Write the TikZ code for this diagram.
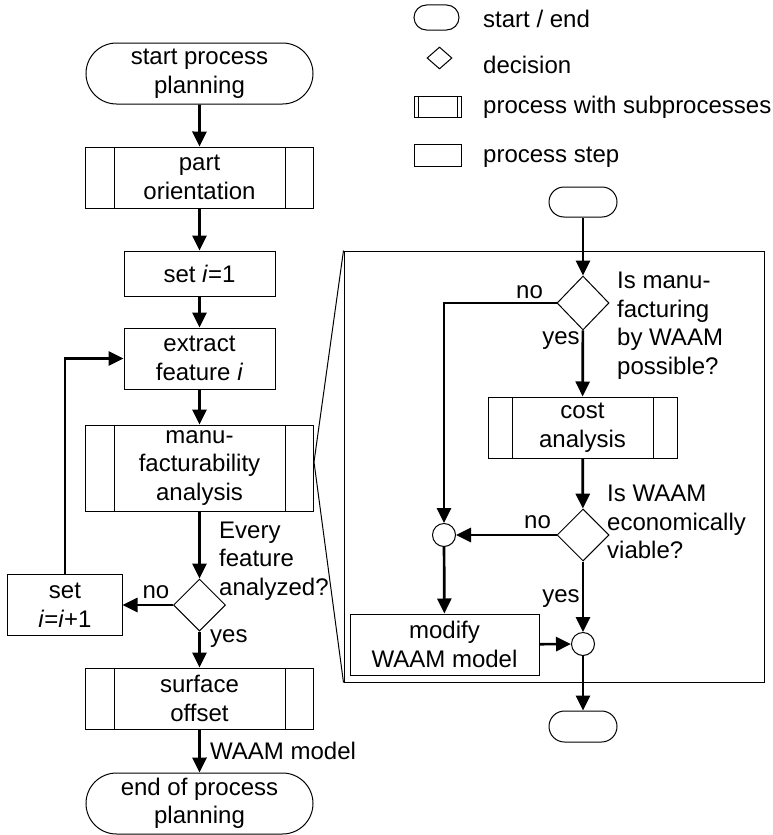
\documentclass[tikz,border=0pt]{standalone}
\usepackage{fontspec}
\setmainfont{Liberation Sans}
\usetikzlibrary{arrows.meta,shapes.misc,shapes.geometric}
\begin{document}
\begin{tikzpicture}[x=1bp, y=-1bp, >={Triangle[length=15bp,width=14bp]},
    font=\fontsize{24bp}{28.5bp}\selectfont,
    box/.style={draw, line width=1bp, inner sep=0pt, align=center},
    term/.style={box, rounded rectangle},
    proc/.style={box, rectangle},
    sub/.style={proc, path picture={
        \draw[line width=1bp] ([xshift=#1]path picture bounding box.north west) -- ([xshift=#1]path picture bounding box.south west)
            ([xshift=-#1]path picture bounding box.north east) -- ([xshift=-#1]path picture bounding box.south east);}},
    sub/.default=28bp,
    dec/.style={box, diamond},
    joint/.style={box, circle, minimum size=23bp},
    flow/.style={->, line width=2.7bp},
    lbl/.style={inner sep=0pt, align=left}]
    \useasboundingbox (0,0) rectangle (773,835);

    \node[term, minimum width=45bp, minimum height=25bp] (lterm) at (436.5,17.5) {};
    \node[dec, minimum width=25bp, minimum height=22bp] (ldec) at (439.5,58) {};
    \node[sub=4bp, minimum width=47bp, minimum height=21bp] (lsub) at (437.5,106.5) {};
    \node[proc, minimum width=47bp, minimum height=22bp] (lproc) at (437.5,155) {};
    \node[lbl, anchor=base west] (tterm) at (483,27) {start / end};
    \node[lbl, anchor=base west] (tdec) at (483,73) {decision};
    \node[lbl, anchor=base west] (tsub) at (483,113) {process with subprocesses};
    \node[lbl, anchor=base west] (tproc) at (483,162) {process step};

    \node[term, minimum width=227bp, minimum height=61bp] (start) at (199.5,73.5) {start process\\planning};
    \node[sub, minimum width=227bp, minimum height=61bp] (orient) at (199.5,177.5) {part\\orientation};
    \node[proc, minimum width=151bp, minimum height=45bp] (seti) at (199.5,273.5) {set \textit{i}=1};
    \node[proc, minimum width=151bp, minimum height=61bp] (extract) at (199.5,358.5) {extract\\feature \textit{i}};
    \node[sub, minimum width=227bp, minimum height=86bp] (manu) at (199.5,468) {manu-\\facturability\\analysis};
    \node[dec, minimum width=52bp, minimum height=52bp] (every) at (199.5,605) {};
    \node[proc, minimum width=114bp, minimum height=61bp] (inc) at (65,605) {set\\\textit{i}=\textit{i}+1};
    \node[sub, minimum width=227bp, minimum height=61bp] (surf) at (199.5,698.5) {surface\\offset};
    \node[term, minimum width=227bp, minimum height=61bp] (stop) at (199.5,803.5) {end of process\\planning};

    \node[lbl, anchor=west] (qevery) at (219,561) {Every\\feature\\analyzed?};
    \node[lbl] (lno) at (156,592) {no};
    \node[lbl, anchor=west] (lyes) at (210,639) {yes};
    \node[lbl, anchor=west] (lmodel) at (210,751) {WAAM model};

    \draw[flow] (start) -- (orient);
    \draw[flow] (orient) -- (seti);
    \draw[flow] (seti) -- (extract);
    \draw[flow] (extract) -- (manu);
    \draw[flow] (manu) -- (every);
    \draw[flow] (every) -- (inc);
    \draw[flow] (inc) |- (extract);
    \draw[flow] (every) -- (surf);
    \draw[flow] (surf) -- (stop);

    \node[draw, line width=1bp, minimum width=420bp, minimum height=431bp, inner sep=0pt] (detail) at (554,466.5) {};
    \coordinate (apex) at (314,462);
    \draw[line width=1bp] (detail.north west) -- (apex) -- (detail.south west);

    \node[term, minimum width=68bp, minimum height=30bp] (iterm) at (583,202) {};
    \node[dec, minimum width=52bp, minimum height=54bp] (possible) at (583,303) {};
    \node[sub=24bp, minimum width=189bp, minimum height=61bp] (cost) at (582.5,427.5) {cost\\analysis};
    \node[dec, minimum width=52bp, minimum height=52bp] (viable) at (583,535) {};
    \node[joint] (jno) at (444,535) {};
    \node[proc, minimum width=189bp, minimum height=61bp] (modify) at (444.5,644.5) {modify\\WAAM model};
    \node[joint] (jyes) at (583,644) {};
    \node[term, minimum width=68bp, minimum height=31bp] (iend) at (583,726.5) {};

    \node[lbl, anchor=west] (qpossible) at (617,325.5) {Is manu-\\facturing\\by WAAM\\possible?};
    \node[lbl, anchor=west] (qviable) at (607,522) {Is WAAM\\economically\\viable?};
    \node[lbl] (ino1) at (529.5,292) {no};
    \node[lbl] (iyes1) at (561,341) {yes};
    \node[lbl] (ino2) at (537.5,522) {no};
    \node[lbl] (iyes2) at (561,599) {yes};

    \draw[flow] (iterm) -- (possible);
    \draw[flow] (possible) -| (jno);
    \draw[flow] (possible) -- (cost);
    \draw[flow] (cost) -- (viable);
    \draw[flow] (viable) -- (jno);
    \draw[flow] (jno) -- (modify);
    \draw[flow] (modify) -- (jyes);
    \draw[flow] (viable) -- (jyes);
    \draw[flow] (jyes) -- (iend);
\end{tikzpicture}
\end{document}
